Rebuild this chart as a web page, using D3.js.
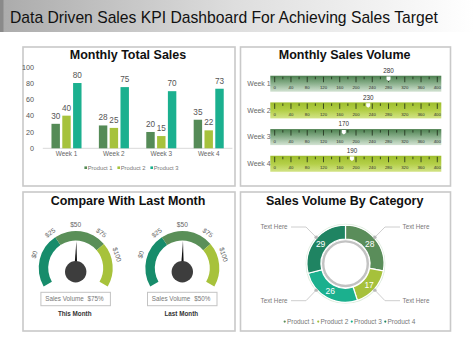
<!DOCTYPE html>
<html><head><meta charset="utf-8">
<script src="https://cdn.jsdelivr.net/npm/d3@7"></script>
<style>body{margin:0;background:#fff}svg{display:block;font-family:"Liberation Sans",Arial,Helvetica,sans-serif}</style>
</head><body><svg id="c" width="474" height="355"></svg>
<script>
const mainTitle = "Data Driven Sales KPI Dashboard For Achieving Sales Target";
const panelTitles = ["Monthly Total Sales","Monthly Sales Volume","Compare With Last Month","Sales Volume By Category"];
const weeks = ["Week 1","Week 2","Week 3","Week 4"];
const products = ["Product 1","Product 2","Product 3"];
const product1 = [30,28,20,35];
const product2 = [40,25,15,22];
const product3 = [80,75,70,73];
const yTicks = [0,20,40,60,80,100];
const volumeValues = [280,230,170,190];
const volumeTicks = [0,40,80,120,160,200,240,280,320,360,400];
const gaugeLabels = ["$0","$25","$50","$75","$100"];
const gaugeLabelValues = [0,25,50,75,100];
const gaugeNames = ["This Month","Last Month"];
const gaugeBoxLabel = "Sales Volume";
const gaugeBoxValues = ["$75%","$50%"];
const gaugeNeedle = [51,51];
const gaugeBands = [[-33.3,26.7],[26.7,84.4],[84.4,133.3]];
const categoryNames = ["Product 1","Product 2","Product 3","Product 4"];
const categoryValues = [28,17,26,29];
const calloutText = ["Text Here","Text Here","Text Here","Text Here"];

const svg = d3.select("#c");
const defs = svg.append("defs");

// title bar
const tg = defs.append("linearGradient").attr("id","tbar").attr("x1","0").attr("x2","1").attr("y1","0").attr("y2","0");
tg.append("stop").attr("offset","0").attr("stop-color","#ababab");
tg.append("stop").attr("offset","0.5").attr("stop-color","#dedede");
tg.append("stop").attr("offset","1").attr("stop-color","#ffffff");
svg.append("rect").attr("x",0).attr("y",0).attr("width",474).attr("height",32).attr("fill","url(#tbar)");
svg.append("rect").attr("x",0).attr("y",0).attr("width",3.5).attr("height",32).attr("fill","#8a8a8a");
svg.append("text").attr("x",10).attr("y",22.7).attr("font-size",15.7).attr("fill","#111").text(mainTitle);

// panels
const panels = [[23,47,212,139],[240.5,47,210,139],[23,192,212,139],[240.5,192,210,139]];
svg.selectAll("rect.panel").data(panels).enter().append("rect").attr("class","panel")
  .attr("x",d=>d[0]).attr("y",d=>d[1]).attr("width",d=>d[2]).attr("height",d=>d[3])
  .attr("fill","none").attr("stroke","#c9c9c9").attr("stroke-width",1.6);
const titlePos = [[128,59],[344.7,59],[128,204.5],[344.7,204.5]];
panelTitles.forEach((t,i)=>svg.append("text").attr("x",titlePos[i][0]).attr("y",titlePos[i][1])
  .attr("text-anchor","middle").attr("font-size",12.5).attr("font-weight","bold").attr("fill","#111").text(t));

// ---------- Monthly Total Sales ----------
const barColors = ["#558b57","#a6c23c","#1bb08f"];
const series = [product1,product2,product3];
const y = d3.scaleLinear().domain([0,100]).range([148.3,66.7]);
const x0 = d3.scaleBand().domain(weeks).range([42.8,232.4]).paddingInner(0.316).paddingOuter(0.158);
const x1 = d3.scaleBand().domain(products).range([0,x0.bandwidth()]).paddingInner(0.22).paddingOuter(0.11);
const ya = svg.append("g").attr("transform","translate(34,0)")
  .call(d3.axisLeft(y).tickValues(yTicks).tickSize(0).tickPadding(0));
ya.select(".domain").remove();
ya.attr("font-size",null).attr("font-family",null);
ya.selectAll("text").attr("font-size",7.2).attr("fill","#555");
svg.append("line").attr("x1",x0.range()[0]).attr("x2",x0.range()[1]).attr("y1",y(0)).attr("y2",y(0)).attr("stroke","#d9d9d9");
const xa = svg.append("g").attr("transform",`translate(0,${y(0)})`)
  .call(d3.axisBottom(x0).tickSize(0).tickPadding(3.5));
xa.select(".domain").remove();
xa.attr("font-size",null).attr("font-family",null);
xa.selectAll("text").attr("font-size",6.4).attr("fill","#666");
const barData = [];
weeks.forEach((w,i)=>products.forEach((p,j)=>barData.push({w,p,j,v:series[j][i]})));
const bg = svg.append("g");
bg.selectAll("rect").data(barData).enter().append("rect")
  .attr("x",d=>x0(d.w)+x1(d.p)).attr("y",d=>y(d.v)).attr("width",x1.bandwidth())
  .attr("height",d=>y(0)-y(d.v)).attr("fill",d=>barColors[d.j]);
bg.selectAll("text").data(barData).enter().append("text")
  .attr("x",d=>x0(d.w)+x1(d.p)+x1.bandwidth()/2).attr("y",d=>y(d.v)-5)
  .attr("text-anchor","middle").attr("font-size",8.2).attr("fill","#555").text(d=>d.v);
const lg1 = d3.scalePoint().domain(products).range([85.7,151.7]);
products.forEach((p,j)=>{
  svg.append("rect").attr("x",lg1(p)-1.3).attr("y",166.4).attr("width",2.6).attr("height",2.6).attr("fill",barColors[j]);
  svg.append("text").attr("x",lg1(p)+2).attr("y",169.6).attr("font-size",5.8).attr("fill","#777").text(p);
});

// ---------- Monthly Sales Volume ----------
const g1 = defs.append("linearGradient").attr("id","rg").attr("x1","0").attr("x2","0").attr("y1","0").attr("y2","1");
g1.append("stop").attr("offset","0").attr("stop-color","#4b7f4e");
g1.append("stop").attr("offset","0.45").attr("stop-color","#86ad88");
g1.append("stop").attr("offset","1").attr("stop-color","#d3e3d3");
const g2 = defs.append("linearGradient").attr("id","ry").attr("x1","0").attr("x2","0").attr("y1","0").attr("y2","1");
g2.append("stop").attr("offset","0").attr("stop-color","#9dbd2c");
g2.append("stop").attr("offset","0.5").attr("stop-color","#b4cf48");
g2.append("stop").attr("offset","1").attr("stop-color","#d2e386");
const xr = d3.scaleLinear().domain([0,400]).range([274.7,437.3]);
const yr = d3.scaleBand().domain(weeks).range([70.4,177.1]).paddingInner(0.4).paddingOuter(0.2);
const minor = xr.ticks(20);
weeks.forEach((w,i)=>{
  const y0 = yr(w), h = yr.bandwidth();
  const g = svg.append("g");
  g.append("rect").attr("x",270.3).attr("y",y0).attr("width",171).attr("height",h).attr("fill",i%2===0?"url(#rg)":"url(#ry)");
  g.selectAll("line").data(minor).enter().append("line")
    .attr("x1",d=>xr(d)).attr("x2",d=>xr(d)).attr("y1",y0+1)
    .attr("y2",d=>y0+(d%40===0?6.5:3.5)).attr("stroke","#1d2a18").attr("stroke-width",0.8);
  g.selectAll("text.t").data(volumeTicks).enter().append("text").attr("class","t")
    .attr("x",d=>xr(d)).attr("y",y0+13.5).attr("text-anchor","middle").attr("font-size",4.3).attr("fill","#2b2b2b").text(d=>d);
  const vx = xr(volumeValues[i]);
  g.append("path").attr("d",`M${vx-2},${y0+0.8}L${vx+2},${y0+0.8}L${vx+2},${y0+3.8}L${vx},${y0+5.3}L${vx-2},${y0+3.8}Z`).attr("fill","#fff");
  g.append("text").attr("x",vx).attr("y",y0-2.7).attr("text-anchor","middle").attr("font-size",6.3).attr("fill","#333").text(volumeValues[i]);
  g.append("text").attr("x",247.3).attr("y",y0+h/2+2.4).attr("font-size",6.9).attr("fill","#666").text(w);
});

// ---------- Gauges ----------
const ga = d3.scaleLinear().domain([-33.3,133.3]).range([-120,120]);
const bandColors = ["#178c6b","#5a8f58","#a7c23b"];
const gaugeCenters = [75.7,182.3];
gaugeCenters.forEach((cx,k)=>{
  const cy = 268;
  const g = svg.append("g").attr("transform",`translate(${cx},${cy})`);
  const arc = d3.arc().innerRadius(27.5).outerRadius(37);
  gaugeBands.forEach((b,j)=>{
    g.append("path").attr("d",arc({startAngle:ga(b[0])*Math.PI/180,endAngle:ga(b[1])*Math.PI/180})).attr("fill",bandColors[j]);
  });
  gaugeLabelValues.forEach((v,j)=>{
    const a = ga(v), r = 43.5;
    const px = r*Math.sin(a*Math.PI/180), py = -r*Math.cos(a*Math.PI/180);
    g.append("text").attr("transform",`translate(${px},${py}) rotate(${a})`).attr("text-anchor","middle")
      .attr("dy","0.35em").attr("font-size",6.6).attr("fill","#666").text(gaugeLabels[j]);
  });
  const na = ga(gaugeNeedle[k])*Math.PI/180;
  const tipx = 27*Math.sin(na), tipy = -27*Math.cos(na);
  g.append("path").attr("d",`M${-1.6},3.7L${tipx},${tipy}L${1.6},3.7Z`).attr("fill","#111");
  g.append("circle").attr("cx",0).attr("cy",3.7).attr("r",10.7).attr("fill","#3d3d3d");
  svg.append("rect").attr("x",cx-34.8).attr("y",292.3).attr("width",69.5).attr("height",13.4)
    .attr("fill","#fff").attr("stroke","#c3c3c3").attr("stroke-width",1);
  svg.append("text").attr("x",cx-30.5).attr("y",301.3).attr("font-size",6.3).attr("fill","#777").text(gaugeBoxLabel);
  svg.append("text").attr("x",cx+28).attr("y",301.3).attr("text-anchor","end").attr("font-size",6.3).attr("fill","#777").text(gaugeBoxValues[k]);
  svg.append("text").attr("x",cx-1).attr("y",315.9).attr("text-anchor","middle").attr("font-size",6.3).attr("font-weight","bold").attr("fill","#333").text(gaugeNames[k]);
});

// ---------- Donut ----------
const dcx = 345.5, dcy = 263.7;
const donutColors = ["#5a8d5a","#a6c13b","#1bb08e","#1f8462"];
const pie = d3.pie().sort(null).value(d=>d)(categoryValues);
const darc = d3.arc().innerRadius(24.5).outerRadius(38.5);
const dg = svg.append("g").attr("transform",`translate(${dcx},${dcy})`);
dg.append("circle").attr("r",39.3).attr("fill","none").attr("stroke","#dcebdc").attr("stroke-width",1.2);
dg.selectAll("path").data(pie).enter().append("path").attr("d",darc)
  .attr("fill",(d,i)=>donutColors[i]).attr("stroke","#fff").attr("stroke-width",1.2);
dg.append("circle").attr("r",22.3).attr("fill","#fff").attr("stroke","#c2c2c2").attr("stroke-width",2.4);
dg.selectAll("text").data(pie).enter().append("text")
  .attr("transform",d=>`translate(${darc.centroid(d)})`).attr("text-anchor","middle").attr("dy","0.35em")
  .attr("font-size",8.5).attr("fill","#fff").text(d=>d.data);
// callouts
const calloutAngles = [312,48,228,132];
calloutAngles.forEach((a,i)=>{
  const rad = a*Math.PI/180;
  const px = 39.5*Math.sin(rad), py = -39.5*Math.cos(rad);
  const side = px<0?-1:1;
  const ty = py<0?-36.7:37;
  dg.append("polyline").attr("points",`${px},${py} ${side*39.5},${ty} ${side*54.5},${ty}`)
    .attr("fill","none").attr("stroke","#c8c8c8").attr("stroke-width",0.9);
  dg.append("circle").attr("cx",px).attr("cy",py).attr("r",1.7).attr("fill","#b8b8b8");
  dg.append("text").attr("x",side<0?-58:57).attr("y",ty+2.2).attr("text-anchor",side<0?"end":"start")
    .attr("font-size",6.3).attr("fill","#777").text(calloutText[i]);
});
const lg2 = d3.scalePoint().domain(categoryNames).range([284.7,385.3]);
categoryNames.forEach((p,j)=>{
  svg.append("circle").attr("cx",lg2(p)).attr("cy",321.6).attr("r",1.1).attr("fill",donutColors[j]);
  svg.append("text").attr("x",lg2(p)+2.2).attr("y",323.9).attr("font-size",6.5).attr("fill","#777").text(p);
});
</script></body></html>
